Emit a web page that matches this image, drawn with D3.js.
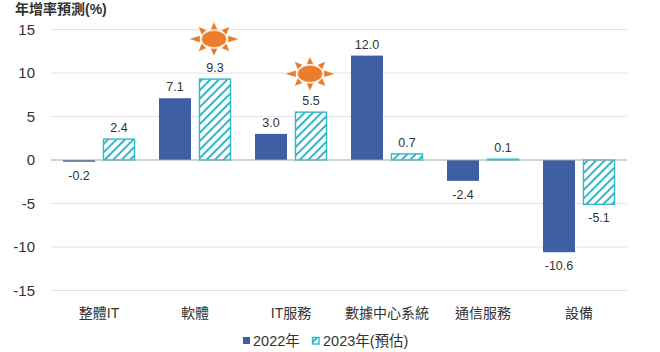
<!doctype html>
<html>
<head>
<meta charset="utf-8">
<script src="https://cdn.jsdelivr.net/npm/d3@7/dist/d3.min.js"></script>
<style>
  html, body { margin: 0; padding: 0; background: #fff; }
  svg { display: block; }
  text { font-family: "Liberation Sans", "Noto Sans CJK TC", sans-serif; }
</style>
</head>
<body>
<svg width="660" height="352"></svg>
<script>
var categories = ["整體IT", "軟體", "IT服務", "數據中心系統", "通信服務", "設備"];
var values2022 = [-0.2, 7.1, 3.0, 12.0, -2.4, -10.6];
var values2023 = [2.4, 9.3, 5.5, 0.7, 0.1, -5.1];
var yTicks = [-15, -10, -5, 0, 5, 10, 15];
var seriesNames = ["2022年", "2023年(預估)"];
var sunCategories = ["軟體", "IT服務"];
var sunLevels = [13.9, 9.9];

var svg = d3.select("svg");
var blue = "#3f5fa5", teal = "#2fb8c9";

var xScale = d3.scaleBand().domain(categories).range([51, 627]);
var yScale = d3.scaleLinear().domain([-15, 15]).range([290.5, 29.5]);
var series = d3.scaleBand().domain(seriesNames).range([0, 96]).paddingInner(0.2).paddingOuter(0.3);

// hatch for the forecast bars
var pattern = svg.append("defs").append("pattern")
    .attr("id", "hatch")
    .attr("patternUnits", "userSpaceOnUse")
    .attr("width", 6).attr("height", 6)
    .attr("patternTransform", "rotate(45)");
pattern.append("rect").attr("width", 6).attr("height", 6).attr("fill", "#fff");
pattern.append("rect").attr("width", 2).attr("height", 6).attr("fill", teal);

// gridlines
svg.append("g").selectAll("line").data(yTicks.filter(function(d) { return d != 0; })).join("line")
    .attr("x1", 51).attr("x2", 627)
    .attr("y1", function(d) { return yScale(d); })
    .attr("y2", function(d) { return yScale(d); })
    .attr("stroke", "#e2e2e2").attr("stroke-width", 1);

// y axis labels
var yAxis = d3.axisLeft(yScale).tickValues(yTicks).tickSize(0).tickPadding(0)
    .tickFormat(function(d) { return d; });
var yG = svg.append("g").attr("transform", "translate(35,0)").call(yAxis);
yG.select(".domain").remove();
yG.selectAll("text").attr("font-size", 15).attr("fill", "#333")
    .style("font-family", "Liberation Sans");

// bars
function barY(v) { return Math.min(yScale(v), yScale(0)); }
function barH(v) { return Math.abs(yScale(v) - yScale(0)); }

svg.append("g").selectAll("rect").data(values2022).join("rect")
    .attr("x", function(d, i) { return xScale(categories[i]) + series(seriesNames[0]); })
    .attr("y", barY)
    .attr("width", series.bandwidth())
    .attr("height", barH)
    .attr("fill", blue);

svg.append("g").selectAll("rect").data(values2023).join("rect")
    .attr("x", function(d, i) { return xScale(categories[i]) + series(seriesNames[1]) + 0.5; })
    .attr("y", barY)
    .attr("width", series.bandwidth() - 1)
    .attr("height", barH)
    .attr("fill", "url(#hatch)")
    .attr("stroke", teal).attr("stroke-width", 1.4);

// zero line
svg.append("line")
    .attr("x1", 51).attr("x2", 627)
    .attr("y1", yScale(0)).attr("y2", yScale(0))
    .attr("stroke", "#a6a6a6").attr("stroke-width", 1.2);

// value labels
function addLabels(vals, name) {
    svg.append("g").selectAll("text").data(vals).join("text")
        .attr("x", function(d, i) { return xScale(categories[i]) + series(name) + series.bandwidth() / 2; })
        .attr("y", function(d) { return d < 0 ? yScale(d) + 18 : yScale(d) - 7; })
        .attr("text-anchor", "middle")
        .attr("font-size", 12.5).attr("fill", "#333")
        .text(function(d) { return d.toFixed(1); });
}
addLabels(values2022, seriesNames[0]);
addLabels(values2023, seriesNames[1]);

// x labels
svg.append("g").selectAll("text").data(categories).join("text")
    .attr("x", function(d) { return xScale(d) + xScale.bandwidth() / 2; })
    .attr("y", 318)
    .attr("text-anchor", "middle")
    .attr("font-size", 14).attr("fill", "#333")
    .text(function(d) { return d; });

// title
svg.append("text")
    .attr("x", 15).attr("y", 14)
    .attr("font-size", 14).attr("font-weight", "bold").attr("fill", "#333")
    .text("年增率預測(%)");

// suns
var rays = d3.range(8).map(function(i) { return i * 45; });
var sunG = svg.append("g").selectAll("g").data(sunCategories).join("g")
    .attr("transform", function(d, i) {
        return "translate(" + (xScale(d) + xScale.bandwidth() / 2 + 19) + "," + yScale(sunLevels[i]) + ")";
    });
sunG.selectAll("path").data(rays).join("path")
    .attr("transform", function(a) {
        var rad = a * Math.PI / 180;
        // long rays left and right, short ones up and down
        var ox = Math.cos(rad) * 14, oy = Math.sin(rad) * 9.5;
        var len = (a % 180 == 0) ? 1.1 : (a % 90 == 0 ? 0.75 : 0.8);
        return "translate(" + ox.toFixed(2) + "," + oy.toFixed(2) + ") rotate(" + a + ") scale(" + len + ",1)";
    })
    .attr("d", d3.line()([[0, -3.5], [10, 0], [0, 3.5]]) + "Z")
    .attr("fill", "#e87b27").attr("stroke", "#fff").attr("stroke-width", 0.4);
sunG.append("ellipse")
    .attr("rx", 12.5).attr("ry", 8.5)
    .attr("fill", "#ec7d2c").attr("stroke", "#fbe3cf").attr("stroke-width", 0.8);

// legend
var legendY = 342;
svg.append("rect").attr("x", 243).attr("y", legendY - 5).attr("width", 7).attr("height", 7).attr("fill", blue);
svg.append("text").attr("x", 253).attr("y", legendY + 4).attr("font-size", 14.5).attr("fill", "#333").text(seriesNames[0]);
svg.append("rect").attr("x", 312.5).attr("y", legendY - 4.5).attr("width", 6.5).attr("height", 6.5)
    .attr("fill", "url(#hatch)").attr("stroke", teal).attr("stroke-width", 1.4);
svg.append("text").attr("x", 323).attr("y", legendY + 4).attr("font-size", 14.5).attr("fill", "#333").text(seriesNames[1]);
</script>
</body>
</html>
